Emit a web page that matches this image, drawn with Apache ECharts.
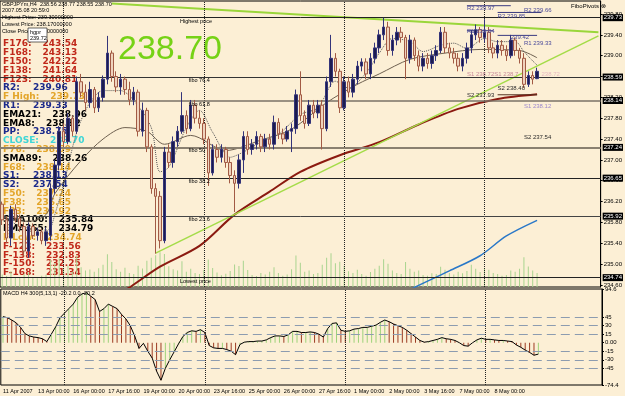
<!DOCTYPE html>
<html>
<head>
<meta charset="utf-8">
<script src="https://cdn.jsdelivr.net/npm/echarts@6.0.0/dist/echarts.min.js"></script>
<style>
html,body{margin:0;padding:0;background:#fcefd5;}
#c{width:625px;height:396px;}
</style>
</head>
<body>
<div id="c"></div>
<script>
// ---------------- DATA ----------------
const timeLabels = ['11 Apr 2007','13 Apr 00:00','16 Apr 00:00','17 Apr 16:00','19 Apr 00:00','20 Apr 00:00','23 Apr 16:00','25 Apr 00:00','26 Apr 00:00','27 Apr 16:00','1 May 00:00','2 May 00:00','3 May 16:00','7 May 00:00','8 May 00:00'];
const priceTicks = [239.80,239.40,239.00,238.60,238.20,237.80,237.40,237.00,236.60,236.20,235.80,235.40,235.00,234.60];
const macdTicks = [94.6,45,30,15,0,-15,-30,-45,-74.4];
const macdLevels = [45,30,15,-15,-30,-45];
const weekStarts = [14,46,78,110];

const candleOpen = [236.15,235.85,235.50,236.05,235.88,235.72,235.25,235.72,235.55,235.62,
 235.45,235.55,236.45,236.90,237.55,237.35,237.80,237.55,238.50,238.30,
 238.10,238.35,238.00,238.20,238.55,239.05,238.60,238.40,238.55,238.35,
 238.15,238.30,237.55,237.95,237.25,236.45,236.30,235.45,237.15,236.95,
 237.35,237.55,237.85,237.60,238.05,237.80,237.70,237.40,236.75,237.20,
 237.05,237.20,236.95,236.70,236.55,237.00,237.45,237.20,237.30,237.45,
 237.25,237.40,237.30,237.72,237.50,237.40,237.55,237.60,238.25,237.85,
 237.70,238.05,237.90,238.05,237.60,238.50,238.95,238.70,238.00,238.50,
 238.30,238.55,238.80,238.88,238.65,238.95,239.15,239.40,239.55,239.10,
 239.30,239.45,239.35,238.95,239.30,239.00,238.80,238.95,238.85,239.00,
 239.10,239.45,239.15,239.05,238.95,238.80,238.95,239.15,239.40,239.50,
 239.35,239.45,239.15,239.05,239.20,239.10,239.00,239.30,239.10,238.95,
 238.45,238.62,238.56];
const candleClose = [235.85,235.50,236.05,235.88,235.72,235.25,235.72,235.55,235.62,235.45,
 235.62,236.45,236.90,237.55,237.35,237.80,237.55,238.50,238.30,238.10,
 238.35,238.00,238.20,238.55,239.05,238.60,238.40,238.55,238.35,238.15,
 238.30,237.55,237.95,237.25,236.45,236.30,235.45,237.15,236.95,237.35,
 237.55,237.85,237.60,238.05,237.80,237.70,237.40,236.75,237.20,237.05,
 237.20,236.95,236.70,236.55,237.00,237.45,237.20,237.30,237.45,237.25,
 237.40,237.30,237.72,237.50,237.40,237.55,237.60,238.25,237.85,237.70,
 238.05,237.90,238.05,237.60,238.50,238.95,238.70,238.00,238.50,238.30,
 238.55,238.80,238.88,238.65,238.95,239.15,239.40,239.55,239.10,239.30,
 239.45,239.35,238.95,239.30,239.00,238.80,238.95,238.85,239.00,239.10,
 239.45,239.15,239.05,238.95,238.80,238.95,239.15,239.40,239.50,239.35,
 239.45,239.15,239.05,239.20,239.10,239.00,239.30,239.10,238.95,238.45,
 238.62,238.55,238.70];
const candleHigh = [236.20,235.92,236.12,236.15,235.95,235.80,235.80,235.78,235.70,235.68,
 235.70,236.55,237.00,237.65,237.70,237.90,237.85,238.60,238.65,238.45,
 238.50,238.40,238.30,238.62,239.38,239.10,238.70,238.65,238.60,238.50,
 238.40,238.35,238.10,238.00,237.30,236.55,236.40,237.25,237.30,237.45,
 237.65,238.30,237.95,238.15,238.15,237.95,237.80,237.45,237.30,237.30,
 237.30,237.25,237.05,236.80,237.10,237.55,237.55,237.40,237.55,237.50,
 237.50,237.50,237.85,237.80,237.60,237.65,237.70,238.35,238.70,237.95,
 238.15,238.15,238.15,238.15,238.60,239.40,239.05,238.75,238.60,238.60,
 238.65,238.90,238.95,238.95,239.05,239.25,239.50,239.73,239.65,239.40,
 239.55,239.55,239.40,239.40,239.35,239.10,239.05,239.05,239.10,239.20,
 239.55,239.55,239.25,239.15,239.05,239.05,239.25,239.50,239.60,239.55,
 239.70,239.55,239.25,239.30,239.30,239.20,239.40,239.35,239.15,239.05,
 238.70,238.70,238.77];
const candleLow = [235.75,235.40,235.35,235.80,235.62,235.15,235.12,235.48,235.45,235.38,
 235.35,235.45,236.35,236.80,237.25,237.30,237.45,237.50,238.20,237.95,
 238.00,237.90,237.92,238.12,238.45,238.50,238.30,238.25,238.25,238.05,
 238.05,237.45,237.45,237.15,236.35,235.20,235.30,235.40,236.85,236.85,
 237.25,237.50,237.50,237.55,237.70,237.60,237.30,236.50,236.70,236.95,
 236.95,236.85,236.55,236.00,236.45,236.75,237.10,237.10,237.20,237.15,
 237.15,237.20,237.20,237.40,237.30,237.35,237.15,237.50,237.75,237.60,
 237.65,237.80,237.80,237.20,237.55,238.40,238.60,237.90,237.95,238.20,
 238.20,238.45,238.70,238.55,238.55,238.85,239.05,239.30,239.00,239.00,
 239.20,239.25,238.55,238.85,238.90,238.70,238.70,238.75,238.75,238.90,
 239.05,239.05,238.95,238.85,238.70,238.70,238.85,239.05,239.30,239.25,
 239.25,239.05,238.95,238.95,239.00,238.90,238.95,239.00,238.85,238.38,
 238.40,238.45,238.55];
const volume = [620,540,780,500,460,650,720,480,430,560,
 610,1350,1180,1420,900,1050,760,1550,980,820,
 870,760,930,1100,1620,1240,880,760,950,700,
 640,1050,920,1300,1450,1580,1720,1640,1030,880,
 820,1280,760,900,700,640,860,1360,940,720,
 580,660,800,1120,1040,1300,850,600,540,700,
 620,760,980,700,560,620,880,1560,1200,760,
 820,640,700,1100,1450,1680,1180,1250,1060,780,
 700,860,640,560,740,900,1050,1380,1150,820,
 700,640,1240,900,760,820,600,560,680,640,
 1000,860,700,620,760,680,800,1100,900,740,
 940,860,700,640,560,600,820,760,900,1480,
 1020,820,700];
const macd = [46,44,40,35,27,16,12,10,9,7,
 2,15,28,44,52,60,68,80,86,88,
 82,76,55,60,68,64,60,50,42,30,
 12,-10,-1,-15,-27,-50,-66,-45,-30,-16,
 -2,11,18,21,20,23,18,-5,-9,-10,
 -10,-12,-15,-21,-3,1,2,2,3,3,
 5,9,12,12,11,14,20,20,18,18,
 19,18,15,10,25,34,35,22,20,21,
 24,25,27,27,29,31,36,40,37,33,
 30,27,22,16,10,4,1,2,4,6,
 9,7,6,4,0,-5,-6,0,5,8,
 6,6,5,4,4,3,2,-4,-8,-13,
 -17,-22,-20];

// indicator lines: [bar index, price]
const ema8Pts = [[0,235.92],[5,235.68],[9,235.58],[11,235.70],[12,235.95],[14,236.52],[17,237.53],[20,238.10],[23,238.33],[27,238.33],[30,238.14],[34,237.62],[36,236.77],[38,236.86],[42,237.62],[45,237.95],[48,237.53],[52,237.05],[55,237.15],[59,237.34],[63,237.49],[68,237.87],[72,238.00],[76,238.51],[79,238.38],[83,238.67],[86,239.05],[89,239.33],[93,239.27],[96,239.08],[100,239.20],[103,239.24],[106,239.14],[110,239.33],[113,239.27],[117,239.27],[119,239.08],[121,238.90],[122,238.82]];
const ema21Pts = [[0,235.90],[6,235.82],[10,235.95],[12,236.35],[18,236.99],[23,237.40],[28,237.62],[33,237.55],[37,237.30],[43,237.47],[51,237.18],[59,237.38],[66,237.59],[74,238.10],[81,238.45],[86,238.65],[93,238.93],[101,239.05],[109,239.12],[118,239.10],[122,238.96]];
const sma89Pts = [[27,234.45],[29,234.55],[36,234.95],[45,235.35],[53,235.95],[61,236.39],[68,236.77],[77,237.09],[86,237.34],[95,237.68],[104,237.98],[113,238.17],[122,238.26]];
const sma100Pts = [[93,234.50],[94,234.55],[102,234.87],[109,235.16],[115,235.54],[122,235.84]];
const trendDown = [[25,240.00],[136,239.45]];
const trendUp = [[35,235.21],[136,239.38]];

const fibLevels = [239.73,238.59,238.14,237.24,236.65,235.92,234.74];
const fibNames = ['Highest price','fibo 76.4','fibo 61.8','fibo 50','fibo 38.2','fibo 23.6','Lowest price'];
const closePrice = 238.70;

const levelNames = ['F176:','F168:','F150:','F138:','F123:','R2:','F High:','R1:','EMA21:','EMA8:','PP:','CLOSE:','F76:','SMA89:','F68:','S1:','S2:','F50:','F38:','F23:','SMA100:','EMA365:','F Low:','F-123:','F-138:','F-150:','F-168:'];
const levelValues = ['243.54','243.13','242.22','241.64','240.81','239.96','239.73','239.33','238.96','238.82','238.75','238.70','238.59','238.26','238.14','238.13','237.54','237.24','236.65','235.92','235.84','234.79','234.74','233.56','232.83','232.25','231.34'];
const levelKinds = ['fx','fx','fx','fx','fx','piv','fib','piv','ma','ma','piv','close','fib','ma','fib','piv','piv','fib','fib','fib','ma','ma','fib','fx','fx','fx','fx'];

const pivotSegs = [[106,116,239.96],[113,123,239.83],[106,112,239.48],[113,122,239.39],[113,122,238.25]];
const pivotNotes = [
  ['R2 239.97',106,239.90,'blue'],['R2 239.85',113,239.75,'blue'],['R2 239.66',119,239.88,'blue'],
  ['R1 239.04',106,239.46,'blue'],['239.42',116,239.35,'blue'],['R1 239.33',119,239.24,'blue'],
  ['S1 238.72S1 238.7',106,238.65,'pink'],['238.72',123,238.65,'faint'],
  ['S2 238.40',113,238.38,'dark'],['S2 237.93',106,238.23,'dark'],
  ['S1 238.12',119,238.02,'violet'],['S2 237.54',119,237.43,'dark']
];

// ---------------- CHART ----------------
const BG = '#fcefd5';
const N = 137;
const cats = Array.from({length:N}, (_, i) => String(i));
const candles = candleOpen.map((o, i) => [o, candleClose[i], candleLow[i], candleHigh[i]]);
const macdBars = macd.map((v, i) => ({value: v, itemStyle: {color: (i > 0 && v < macd[i-1]) ? '#9c3b22' : '#9ed27a'}}));
const kindColor = {fx:'#c0281a', piv:'#1c2a8c', fib:'#e3a52a', ma:'#000', close:'#3fd6d6'};
const noteColor = {blue:'#4a4a9a', pink:'#c88a9a', faint:'#e6b8c0', dark:'#2a2a2a', violet:'#9a88cc'};
const fibStyle = [
  {color:'#222',width:1},{color:'#333',width:1},{color:'#7a7266',width:1.5},{color:'#8a8070',width:2},
  {color:'#222',width:1},{color:'#444',width:1},{color:'#222',width:1}
];

const chart = echarts.init(document.getElementById('c'));

const rightLabel = {show:true, position:'end', color:'#fff', backgroundColor:'#000', fontSize:6, fontFamily:'Arial', padding:[1,1,0,1], distance:2};

const fibMarks = fibLevels.map((v, k) => ({yAxis: v, lineStyle: Object.assign({type:'solid'}, fibStyle[k]), label: Object.assign({formatter: v.toFixed(2)}, rightLabel)}));
fibMarks.push({yAxis: closePrice, lineStyle:{opacity:0}, label: Object.assign({formatter: closePrice.toFixed(2)}, rightLabel)});

const lineSeries = (data, color, width, type, z, extra) => Object.assign({
  type:'line', xAxisIndex:0, yAxisIndex:0, data, showSymbol:false, symbol:'none', smooth:0.3,
  lineStyle:{color, width, type}, z, silent:true
}, extra || {});

const series = [
  {type:'bar', xAxisIndex:0, yAxisIndex:1, data: volume, barWidth:1, itemStyle:{color:'#a9d48f'}, z:1, silent:true,
   markLine:{silent:true, symbol:['none','none'], label:{show:false}, lineStyle:{type:'dotted', color:'#222', width:1}, data: weekStarts.map(i => ({xAxis: i}))}},
  lineSeries(ema21Pts, '#6e6050', 1, 'solid', 3, {markLine:{silent:true, symbol:['none','none'], data: fibMarks}}),
  lineSeries(ema8Pts, '#555', 1, 'dotted', 3),
  lineSeries(sma89Pts, '#8b1a10', 2, 'solid', 3),
  lineSeries(sma100Pts, '#2a78c8', 1.5, 'solid', 3),
  lineSeries(trendDown, '#9ad63a', 2, 'solid', 4, {smooth:false}),
  lineSeries(trendUp, '#a4dc48', 1.5, 'solid', 4, {smooth:false})
];
pivotSegs.forEach(s => series.push(lineSeries([[s[0], s[2]], [s[1], s[2]]], s[2] < 239 ? '#553322' : '#3a3a80', 1, 'solid', 4, {smooth:false})));
series.push({type:'candlestick', xAxisIndex:0, yAxisIndex:0, data: candles, barWidth:3, z:5, silent:true,
  itemStyle:{color:'#1c1c50', color0:'#efd3bd', borderColor:'#34347a', borderColor0:'#a25a44', borderWidth:1}});
series.push({type:'bar', xAxisIndex:1, yAxisIndex:2, data: macdBars, barWidth:1, z:2, silent:true,
  markLine:{silent:true, symbol:['none','none'], label:{show:false},
    data: macdLevels.map(v => ({yAxis: v, lineStyle:{type:[9,5], color:'#8c9cb0', width:1}}))
      .concat(weekStarts.map(i => ({xAxis: i, lineStyle:{type:'dotted', color:'#222', width:1}})))}});
series.push({type:'line', xAxisIndex:1, yAxisIndex:2, data: macd, showSymbol:false, symbol:'none', lineStyle:{color:'#000', width:1}, z:3, silent:true});

const option = {
  animation:false,
  backgroundColor: BG,
  grid:[
    {left:0, right:23, top:1, height:286, show:true, borderColor:'#000', borderWidth:1, backgroundColor:'transparent'},
    {left:0, right:23, top:289, height:96, show:true, borderColor:'#000', borderWidth:1, backgroundColor:'transparent'}
  ],
  xAxis:[
    {type:'category', gridIndex:0, data:cats, boundaryGap:true, axisLine:{show:false}, axisTick:{show:false}, axisLabel:{show:false}, splitLine:{show:false}},
    {type:'category', gridIndex:1, data:cats, boundaryGap:true, axisLine:{show:false}, axisTick:{show:false}, splitLine:{show:false},
     axisLabel:{interval:7, align:'left', fontSize:5.5, fontFamily:'Arial', color:'#000', margin:3,
       formatter:(v, idx) => (idx % 8 === 0 && timeLabels[idx/8]) ? timeLabels[idx/8] : ''}}
  ],
  yAxis:[
    {type:'value', gridIndex:0, position:'right', min:234.56, max:240.05, scale:true, splitLine:{show:false},
     axisLine:{show:true, lineStyle:{color:'#000'}},
     axisTick:{show:true, length:2, customValues:priceTicks, lineStyle:{color:'#000'}},
     axisLabel:{customValues:priceTicks, formatter:v => v.toFixed(2), fontSize:6, fontFamily:'Arial', color:'#000', margin:3}},
    {type:'value', gridIndex:0, min:0, max:14200, show:false},
    {type:'value', gridIndex:1, position:'right', min:-74.4, max:94.6, splitLine:{show:false},
     axisLine:{show:true, lineStyle:{color:'#000'}},
     axisTick:{show:true, length:2, customValues:macdTicks, lineStyle:{color:'#000'}},
     axisLabel:{customValues:macdTicks, formatter:v => v === 0 ? '0.00' : String(v), fontSize:6, fontFamily:'Arial', color:'#000', margin:3}}
  ],
  series
};
chart.setOption(option);

// ---------------- TEXT OVERLAYS ----------------
const P = (i, p) => chart.convertToPixel({xAxisIndex:0, yAxisIndex:0}, [i, p]);
const g = [];
function txt(x, y, s, st, z) {
  g.push({type:'text', x, y, z: z == null ? 20 : z, silent:true,
    style: Object.assign({text:s, fill:'#000', fontSize:5.5, fontFamily:'Arial', align:'left', verticalAlign:'middle'}, st || {})});
}
// header
txt(2, 4, 'GBPJPYm,H4  238.56 238.77 238.55 238.70');
txt(2, 10, '2007.05.08 20:59:0');
txt(2, 17, 'Highest Price: 239.30000000');
txt(2, 24, 'Lowest Price: 238.17000000');
txt(2, 31, 'Close Price: 238.70000000');
g.push({type:'rect', x:28, y:28, z:21, silent:true, shape:{width:19, height:14}, style:{fill:'#fff', stroke:'#000', lineWidth:0.6}});
txt(30, 32, 'hgpr', {}, 22);
txt(30, 38.5, '239.72', {}, 22);
// big price
txt(118, 50, '238.70', {fontSize:34, fill:'#76d216'}, 1);
// left level list
const mctx = document.createElement('canvas').getContext('2d');
mctx.font = 'bold 9px "DejaVu Sans"';
levelNames.forEach((n, k) => {
  const y = 44 + k * 8.8;
  const col = kindColor[levelKinds[k]];
  const w = mctx.measureText(n).width;
  txt(3, y, n, {fontSize:9, fontWeight:'bold', fontFamily:'DejaVu Sans', fill:col}, 1);
  txt(Math.max(33, 3 + w + 11), y, levelValues[k], {fontSize:9, fontWeight:'bold', fontFamily:'DejaVu Sans', fill:col}, 1);
});
// fib labels
const fibX = [41, 43, 43, 43, 43, 43, 41];
fibNames.forEach((n, k) => {
  const p = P(fibX[k], fibLevels[k]);
  txt(p[0] - 2, p[1] + 3.5, n, {fontSize:5.5});
});
// pivot notes
pivotNotes.forEach(nt => {
  const p = P(nt[1], nt[2]);
  txt(p[0], p[1], nt[0], {fontSize:6, fill: noteColor[nt[3]]});
});
txt(571, 6, 'FiboPivots \u2297', {fontSize:6});
txt(3, 293, 'MACD H4 300(5,13,1) -20.2 0.0 -20.2', {fontSize:5.5});
chart.setOption({graphic: g});
</script>
</body>
</html>
